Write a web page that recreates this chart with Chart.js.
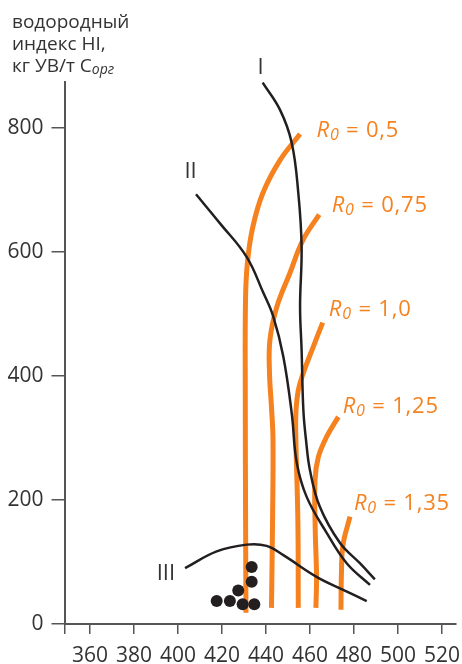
<!DOCTYPE html>
<html>
<head>
<meta charset="utf-8">
<script src="https://cdn.jsdelivr.net/npm/chart.js@4.4.1/dist/chart.umd.min.js"></script>
<style>
  html, body { margin: 0; padding: 0; background: #fff; }
  #wrap { position: relative; width: 462px; height: 664px; }
  #ytitle {
    position: absolute; left: 12px; top: 10px;
    font: 19px "Open Sans", sans-serif; line-height: 22px; color: #333;
  }
  #ytitle i { font-size: 14px; position: relative; top: 2px; }
</style>
</head>
<body>
<div id="wrap">
  <canvas id="c" width="462" height="664"></canvas>
  <div id="ytitle">водородный<br>индекс HI,<br>кг УВ/т С<i>орг</i></div>
</div>
<script>
// Tmax (°C) vs hydrogen index HI (kg HC / t Corg)

// Kerogen evolution paths I, II, III: [Tmax, HI]
const typeI = [[438.5,873],[446.4,829],[451.7,776],[454.7,695],[456.2,608],[455.5,512],[456.2,442],[457,345],[458.2,297],[460,248],[464.5,189],[473.6,131],[482.7,98],[489.5,72]];
const typeII = [[408.2,693],[419.1,646],[431.2,592],[438.8,534],[443.3,496],[447.9,431],[451.7,340],[454,260],[458.5,205],[467.6,147],[476.7,98],[487.3,63]];
const typeIII = [[403.2,90],[417.6,117],[431.2,128],[440.3,126],[447.9,111],[463,76],[475.1,55],[485.8,37]];

// Vitrinite reflectance isolines R0: [Tmax, HI]
const r050 = [[430.9,18],[430.7,200],[430.6,361],[430.7,523],[431.6,584],[434,640],[438.6,695],[446.4,748],[455.5,790]];
const r075 = [[442.5,26],[443,168],[443.2,297],[442.5,350],[441.6,405],[441.8,458],[444.9,511],[450.9,566],[456.8,619],[464.2,660]];
const r100 = [[454.7,26],[454.5,168],[453.6,297],[453.6,340],[454.7,377],[457,405],[461.5,447],[465.8,486]];
const r125 = [[462.7,26],[463,76],[462.4,152],[462.3,232],[463.8,269],[467.6,302],[472.9,334]];
const r135 = [[474.1,23],[474.3,79],[475,127],[478.2,173]];

// Samples
const samples = [[417.6,37],[423.6,37],[429.4,32],[434.7,32],[427.4,54],[433.5,68],[433.5,92]];

// Isoline captions (R0 value) and their anchor in data units
const rValues = ['0,5', '0,75', '1,0', '1,25', '1,35'];
const rLabelAt = [[463.0,785],[469.9,665],[468.6,497],[474.9,340],[480,184]];

// Path captions
const typeNames = ['I', 'II', 'III'];
const typeLabelAt = [[437.5,887],[405.7,719],[394.5,71]];

// Axis ticks
const xTicks = [360, 380, 400, 420, 440, 460, 480, 500, 520];
const yTicks = [0, 200, 400, 600, 800];
const X_MIN = 348.4, X_MAX = 526.4, Y_MIN = 0, Y_MAX = 874;

const ORANGE = '#f5821f';
const INK = '#231f20';
const AXIS = '#555555';
const TEXT = '#333333';
const FONT = '"Open Sans", sans-serif';

const toXY = arr => arr.map(([x, y]) => ({ x, y }));

const blackLine = (data) => ({
  data: toXY(data), showLine: true, borderColor: INK, borderWidth: 2.5,
  pointRadius: 0, tension: 0.4, fill: false, order: 1
});
const orangeLine = (data) => ({
  data: toXY(data), showLine: true, borderColor: ORANGE, borderWidth: 5,
  pointRadius: 0, tension: 0.4, fill: false, order: 2, borderCapStyle: 'butt'
});

const captions = {
  id: 'captions',
  afterDatasetsDraw(chart) {
    const { ctx, scales: { x, y } } = chart;
    ctx.save();
    ctx.textBaseline = 'alphabetic';
    ctx.textAlign = 'left';
    ctx.fillStyle = ORANGE;
    if ('letterSpacing' in ctx) ctx.letterSpacing = '0.8px';
    rValues.forEach((v, i) => {
      let px = x.getPixelForValue(rLabelAt[i][0]);
      const py = y.getPixelForValue(rLabelAt[i][1]);
      ctx.font = 'italic 22px ' + FONT;
      ctx.fillText('R', px, py);
      px += ctx.measureText('R').width;
      ctx.font = 'italic 16px ' + FONT;
      ctx.fillText('0', px, py + 3);
      px += ctx.measureText('0').width;
      ctx.font = '22px ' + FONT;
      ctx.fillText(' = ' + v, px, py);
    });
    if ('letterSpacing' in ctx) ctx.letterSpacing = '0px';
    ctx.fillStyle = TEXT;
    ctx.textAlign = 'center';
    ctx.font = '22px ' + FONT;
    typeNames.forEach((t, i) => {
      ctx.fillText(t, x.getPixelForValue(typeLabelAt[i][0]), y.getPixelForValue(typeLabelAt[i][1]));
    });
    ctx.restore();
  }
};

new Chart(document.getElementById('c'), {
  type: 'scatter',
  data: {
    datasets: [
      { data: toXY(samples), backgroundColor: INK, borderWidth: 0, pointRadius: 6, pointHoverRadius: 6, showLine: false, order: 0 },
      blackLine(typeI), blackLine(typeII), blackLine(typeIII),
      orangeLine(r050), orangeLine(r075), orangeLine(r100), orangeLine(r125), orangeLine(r135)
    ]
  },
  options: {
    responsive: false,
    animation: false,
    events: [],
    layout: { padding: { top: 82, right: 6, left: 0, bottom: 0 } },
    plugins: { legend: { display: false }, tooltip: { enabled: false } },
    scales: {
      x: {
        type: 'linear', min: X_MIN, max: X_MAX,
        afterBuildTicks: s => { s.ticks = [X_MIN, ...xTicks].map(v => ({ value: v })); },
        afterFit: s => { s.height = 40; s.paddingLeft = 0; s.paddingRight = 0; },
        ticks: {
          autoSkip: false, maxRotation: 0, color: TEXT, padding: 9,
          font: { family: FONT, size: 21 },
          callback: v => xTicks.includes(v) ? String(v) : ''
        },
        grid: { drawOnChartArea: false, drawTicks: true, tickLength: 10, color: AXIS, lineWidth: 1.5 },
        border: { display: true, color: AXIS, width: 2 }
      },
      y: {
        type: 'linear', min: Y_MIN, max: Y_MAX,
        afterBuildTicks: s => { s.ticks = yTicks.map(v => ({ value: v })); },
        afterFit: s => { s.width = 64.5; s.paddingTop = 0; s.paddingBottom = 0; },
        ticks: {
          autoSkip: false, color: TEXT, padding: 8,
          font: { family: FONT, size: 21 },
          callback: v => String(v)
        },
        grid: { drawOnChartArea: false, drawTicks: true, tickLength: 13, color: AXIS, lineWidth: 1.5 },
        border: { display: true, color: AXIS, width: 2 }
      }
    }
  },
  plugins: [captions]
});
</script>
</body>
</html>
